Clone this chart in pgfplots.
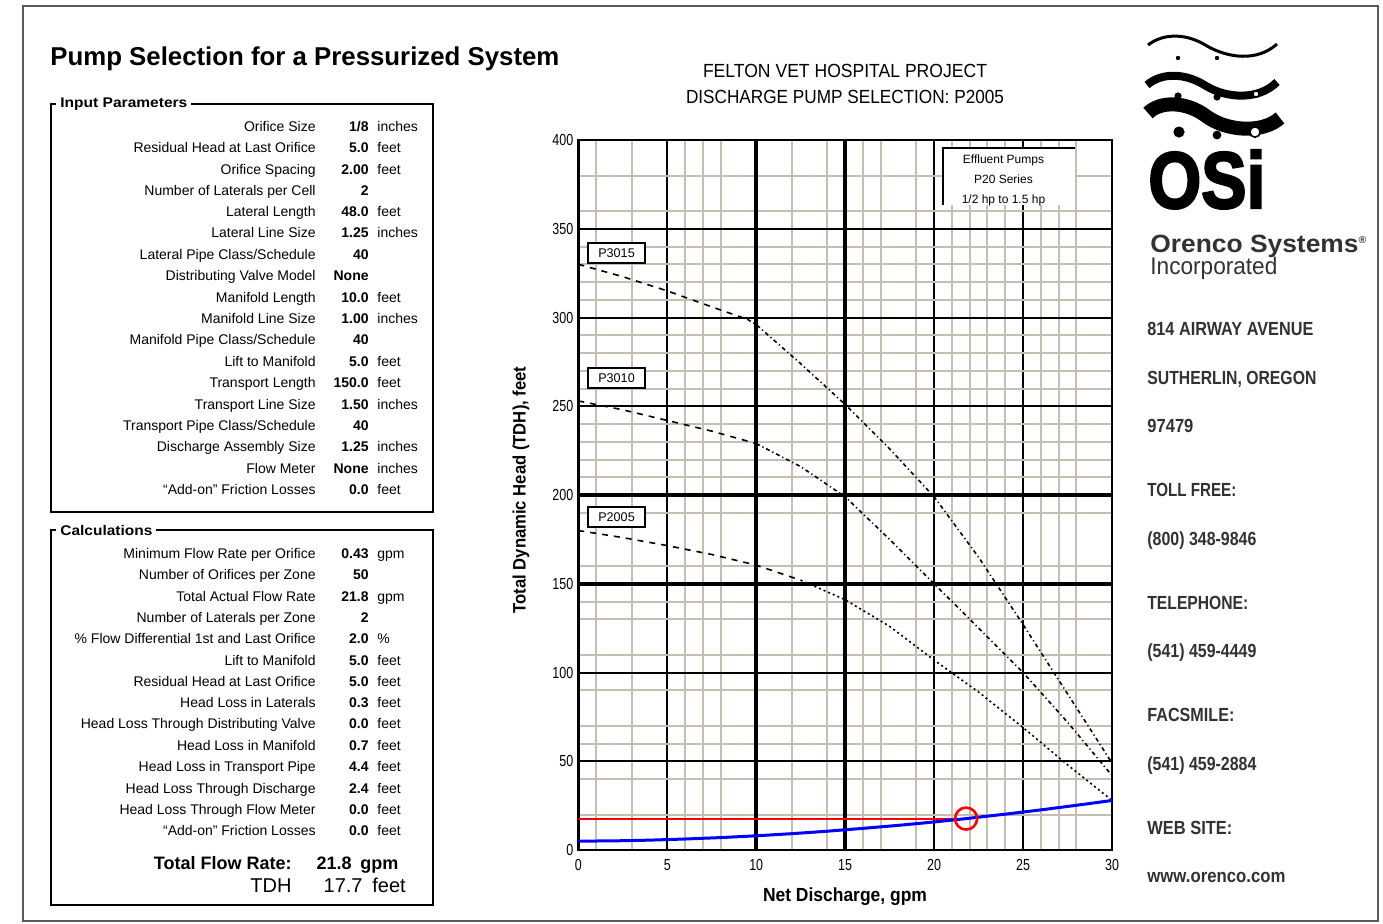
\documentclass[border=0pt]{standalone}
\usepackage{fontspec}
\setmainfont{Liberation Sans}
\newfontfamily\nf[FakeStretch=0.78]{Liberation Sans}
\newfontfamily\heavyf[FakeBold=3]{Liberation Sans Bold}
\usepackage{graphicx}
\usepackage{pgfplots}
\pgfplotsset{compat=1.18}
\definecolor{gridtan}{RGB}{196,191,176}
\definecolor{addr}{RGB}{50,50,50}
\newcommand\fw[2]{\resizebox{#1}{\height}{#2}}
\newcommand\rowf{\fontsize{7}{8}\selectfont}
\newcommand\inrow[4]{%
 \node[anchor=base east,inner sep=0,font=\rowf] at (316,#1) {#2};
 \node[anchor=base east,inner sep=0,font=\rowf\bfseries] at (369,#1) {#3};
 \node[anchor=base west,inner sep=0,font=\rowf] at (377,#1) {#4};}
\newcommand\addr[3]{\node[anchor=base west,inner sep=0,text=addr,font=\nf\bfseries\fontsize{9.5}{10}\selectfont] at (1147,#1) {\fw{#2}{#3}};}
\begin{document}
\begin{tikzpicture}
\begin{scope}[x=0.5pt,y=-0.5pt]
\fill[white] (0,0) rectangle (1383,923);
\path[use as bounding box] (0,0) rectangle (1383,923);
\draw[gray!70!black, line width=0.6pt] (23,6) rectangle (1378,921);
% ---------- left panel ----------
\node[anchor=base west, inner sep=0, font=\bfseries\fontsize{12.9}{14}\selectfont] at (50,65.5) {Pump Selection for a Pressurized System};
\draw[line width=1.2pt] (51,104) rectangle (433,512);
\node[anchor=west, fill=white, inner xsep=2pt, inner ysep=1pt, font=\bfseries\fontsize{7}{8}\selectfont] at (56,104) {\fw{63.5pt}{Input Parameters}};
\inrow{131}{Orifice Size}{1/8}{inches}
\inrow{152}{Residual Head at Last Orifice}{5.0}{feet}
\inrow{174}{Orifice Spacing}{2.00}{feet}
\inrow{195}{Number of Laterals per Cell}{2}{}
\inrow{216}{Lateral Length}{48.0}{feet}
\inrow{237}{Lateral Line Size}{1.25}{inches}
\inrow{259}{Lateral Pipe Class/Schedule}{40}{}
\inrow{280}{Distributing Valve Model}{None}{}
\inrow{302}{Manifold Length}{10.0}{feet}
\inrow{323}{Manifold Line Size}{1.00}{inches}
\inrow{344}{Manifold Pipe Class/Schedule}{40}{}
\inrow{366}{Lift to Manifold}{5.0}{feet}
\inrow{387}{Transport Length}{150.0}{feet}
\inrow{409}{Transport Line Size}{1.50}{inches}
\inrow{430}{Transport Pipe Class/Schedule}{40}{}
\inrow{451}{Discharge Assembly Size}{1.25}{inches}
\inrow{473}{Flow Meter}{None}{inches}
\inrow{494}{``Add-on'' Friction Losses}{0.0}{feet}
\draw[line width=1.2pt] (51,530) rectangle (433,905);
\node[anchor=west, fill=white, inner xsep=2pt, inner ysep=1pt, font=\bfseries\fontsize{7}{8}\selectfont] at (56,530) {\fw{46pt}{Calculations}};
\inrow{558}{Minimum Flow Rate per Orifice}{0.43}{gpm}
\inrow{579}{Number of Orifices per Zone}{50}{}
\inrow{601}{Total Actual Flow Rate}{21.8}{gpm}
\inrow{622}{Number of Laterals per Zone}{2}{}
\inrow{643}{\% Flow Differential 1st and Last Orifice}{2.0}{\%}
\inrow{665}{Lift to Manifold}{5.0}{feet}
\inrow{686}{Residual Head at Last Orifice}{5.0}{feet}
\inrow{707}{Head Loss in Laterals}{0.3}{feet}
\inrow{728}{Head Loss Through Distributing Valve}{0.0}{feet}
\inrow{750}{Head Loss in Manifold}{0.7}{feet}
\inrow{771}{Head Loss in Transport Pipe}{4.4}{feet}
\inrow{793}{Head Loss Through Discharge}{2.4}{feet}
\inrow{814}{Head Loss Through Flow Meter}{0.0}{feet}
\inrow{835}{``Add-on'' Friction Losses}{0.0}{feet}
\node[anchor=base east,inner sep=0,font=\bfseries\fontsize{9}{10}\selectfont] at (292,869) {Total Flow Rate:};
\node[anchor=base east,inner sep=0,font=\bfseries\fontsize{9}{10}\selectfont] at (352,869) {21.8};
\node[anchor=base west,inner sep=0,font=\bfseries\fontsize{9}{10}\selectfont] at (360,869) {gpm};
\node[anchor=base east,inner sep=0,font=\fontsize{10}{11}\selectfont] at (292,892) {TDH};
\node[anchor=base east,inner sep=0,font=\fontsize{10}{11}\selectfont] at (363,892) {17.7};
\node[anchor=base west,inner sep=0,font=\fontsize{10}{11}\selectfont] at (372,892) {feet};
% ---------- chart titles and axis labels ----------
\node[inner sep=0,font=\fontsize{9.5}{10}\selectfont] at (845,71) {\fw{142pt}{FELTON VET HOSPITAL PROJECT}};
\node[inner sep=0,font=\fontsize{9.5}{10}\selectfont] at (845,97) {\fw{159pt}{DISCHARGE PUMP SELECTION: P2005}};
\node[rotate=90,inner sep=0,font=\bfseries\fontsize{9}{10}\selectfont] at (521,490) {\fw{123.5pt}{Total Dynamic Head (TDH), feet}};
\node[inner sep=0,font=\bfseries\fontsize{9.5}{10}\selectfont] at (845,897) {\fw{82pt}{Net Discharge, gpm}};
% ---------- right panel ----------
\draw[line width=1.5pt] (1148,45) .. controls (1165,32) and (1188,34) .. (1207,46) .. controls (1228,58) and (1257,62) .. (1277,44);
\draw[line width=4pt] (1147,85) .. controls (1162,72) and (1186,73) .. (1206,86) .. controls (1226,98) and (1258,101) .. (1277,82);
\draw[line width=7pt] (1148,113) .. controls (1160,101) and (1186,101) .. (1206,116) .. controls (1226,131) and (1262,134) .. (1280,118);
\fill (1178,58) circle (1.1pt);
\fill (1217,58) circle (1.1pt);
\fill (1178,96) circle (1.8pt);
\fill (1217,97) circle (1.8pt);
\fill (1179,132) circle (2.8pt);
\fill (1217,135) circle (2.2pt);
\filldraw[fill=white,draw=black,line width=0.8pt] (1256,94) circle (1.6pt);
\filldraw[fill=white,draw=black,line width=0.8pt] (1255,132) circle (2.6pt);
\node[anchor=base west,inner sep=0,font=\heavyf] at (1148,208) {\resizebox{58.5pt}{29pt}{OSi}};
\node[anchor=base west,inner sep=0,text=addr,font=\bfseries\fontsize{12.5}{13}\selectfont] at (1150,252) {\fw{108.5pt}{Orenco Systems\textsuperscript{\tiny®}}};
\node[anchor=base west,inner sep=0,text=addr,font=\fontsize{12}{13}\selectfont] at (1150,274) {\fw{63.5pt}{Incorporated}};
\addr{335}{83pt}{814 AIRWAY AVENUE}
\addr{384}{84.5pt}{SUTHERLIN, OREGON}
\addr{432}{23pt}{97479}
\addr{496}{44.5pt}{TOLL FREE:}
\addr{545}{54.5pt}{(800) 348-9846}
\addr{609}{50.5pt}{TELEPHONE:}
\addr{657}{54.5pt}{(541) 459-4449}
\addr{721}{43.5pt}{FACSMILE:}
\addr{770}{54.5pt}{(541) 459-2884}
\addr{834}{42.5pt}{WEB SITE:}
\addr{882}{69pt}{www.orenco.com}
\end{scope}
% ---------- chart ----------
\begin{axis}[
  at={(289.15pt,-425pt)}, anchor=south west,
  width=266.85pt, height=355pt, scale only axis,
  xmin=0, xmax=30, ymin=0, ymax=400,
  xtick={0,5,10,15,20,25,30},
  ytick={0,50,100,150,200,250,300,350,400},
  minor xtick={1,3,6,7,8,12,14,16,17,19,21,22,23,24,26,27,28},
  minor ytick={20,40,60,70,90,110,130,140,160,190,210,220,230,240,260,270,280,290,310,320,330,340,360,380},
  grid=both,
  major grid style={black,line width=1pt},
  minor grid style={gridtan,line width=1pt},
  axis line style={black,line width=1.3pt},
  major tick length=0pt, minor tick length=0pt,
  tick label style={font=\nf\fontsize{8}{9}\selectfont},
  /pgf/number format/assume math mode=true,
  yticklabel style={xshift=1pt},
  xticklabel style={yshift=-1pt},
]
\draw[line width=1.8pt] (axis cs:10,0)--(axis cs:10,400);
\draw[line width=1.8pt] (axis cs:15,0)--(axis cs:15,400);
\draw[line width=1.8pt] (axis cs:0,150)--(axis cs:30,150);
\draw[line width=1.8pt] (axis cs:0,200)--(axis cs:30,200);
\fill[white] (axis cs:20.5,363.4) rectangle (axis cs:27.9,395.3);
\draw[line width=1pt] (axis cs:20.5,363.4) |- (axis cs:27.9,395.3);
\node[font=\fontsize{6}{10}\selectfont, align=center, inner sep=0] at (axis cs:23.9,377.3) {Effluent Pumps\\P20 Series\\1/2 hp to 1.5 hp};
\node[draw,line width=1pt,fill=white,minimum width=28.7pt,minimum height=10pt,inner sep=0,font=\fontsize{6.3}{7}\selectfont] at (axis cs:2.15,336.2) {P3015};
\node[draw,line width=1pt,fill=white,minimum width=28.7pt,minimum height=10pt,inner sep=0,font=\fontsize{6.3}{7}\selectfont] at (axis cs:2.15,266) {P3010};
\node[draw,line width=1pt,fill=white,minimum width=28.7pt,minimum height=10pt,inner sep=0,font=\fontsize{6.3}{7}\selectfont] at (axis cs:2.15,187.8) {P2005};
% P3015
\addplot[black, line width=0.8pt, dashed] coordinates {(0,330)(2.5,323)(5,315)(7.5,306)(9.5,299)};
\addplot[black, line width=0.8pt, dash pattern=on 2pt off 1.5pt on 0.6pt off 1.5pt] coordinates {(9.5,299)(10,296)(12.5,274)(15,251)(17.5,226)(20,199)(22.5,165)(25,127)(27.5,88)(30,49)};
% P3010
\addplot[black, line width=0.8pt, dashed] coordinates {(0,253)(2.5,248)(5,242)(7.5,236)(10,229)};
\addplot[black, line width=0.8pt, dash pattern=on 2pt off 1.5pt on 0.6pt off 1.5pt] coordinates {(10,229)(12.5,216)(15,199)(17.5,175)(20,150)(22.5,125)(25,100)(27.5,72)(30,42)};
% P2005
\addplot[black, line width=0.8pt, dashed] coordinates {(0,180)(2.5,176)(5,171.5)(7.5,166.5)(10,160.5)(12.5,152)};
\addplot[black, line width=0.8pt, dash pattern=on 1pt off 1.5pt] coordinates {(12.5,152)(15,141)(17.5,126)(20,107)(22.5,89)(25,69)(27.5,48)(30,28)};
% system curve
\addplot[red, line width=1pt] coordinates {(0,17.7)(21.8,17.7)};
\addplot[blue, line width=1.5pt] coordinates {(0,5.0)(2,5.15)(4,5.55)(6,6.2)(8,7.0)(10,8.0)(12,9.2)(14,10.6)(16,12.2)(18,13.9)(20,15.8)(21.8,17.7)(24,20.2)(26,22.6)(28,25.2)(30,27.9)};
\addplot[red, only marks, mark=o, mark size=5.5pt, mark options={line width=1.3pt}] coordinates {(21.8,17.7)};
\end{axis}
\end{tikzpicture}
\end{document}
